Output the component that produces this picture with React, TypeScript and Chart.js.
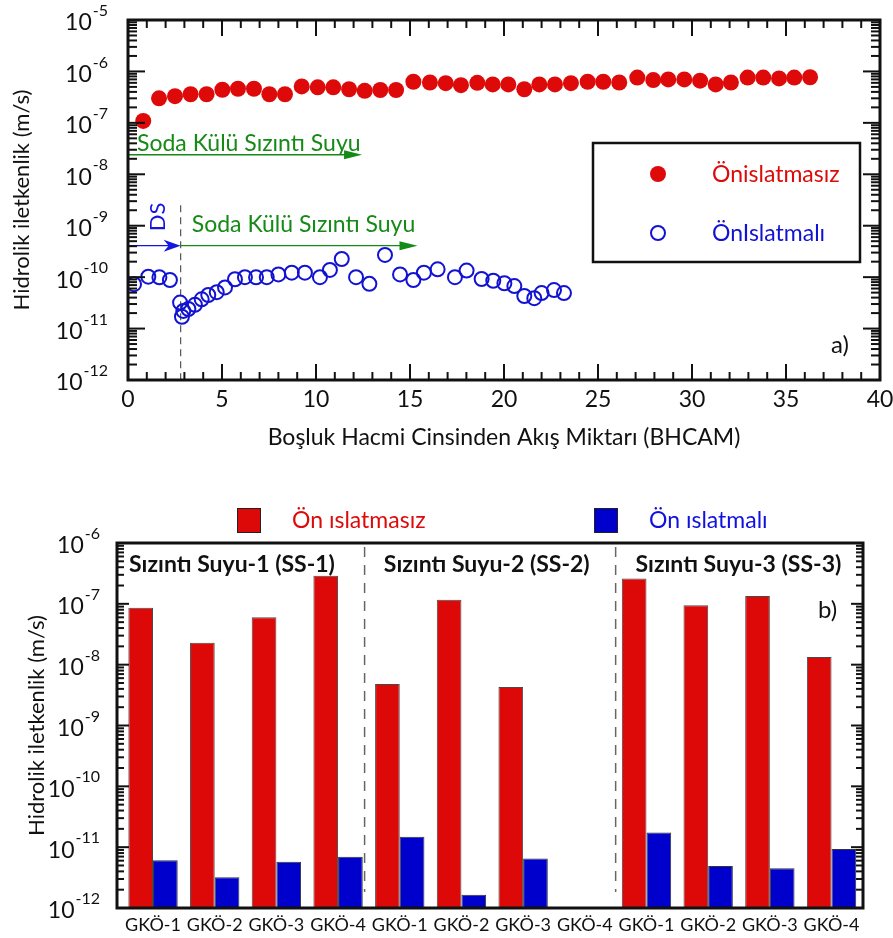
import React, { useEffect, useRef } from 'react';
import { Chart, registerables } from 'chart.js';
Chart.register(...registerables);

const FONT = 'Lato, "Open Sans", "DejaVu Sans", sans-serif';
const RED = '#DE0A0A';
const BLUE_PT = '#1212D2';
const BLUE_BAR = '#0000CC';
const GREEN = '#168A16';
const INK = '#111111';

// ---------- Panel a) data ----------
const dryBhcam = [0.81, 1.65, 2.5, 3.33, 4.18, 5.02, 5.85, 6.7, 7.52, 8.35, 9.24, 10.09, 10.92, 11.76, 12.59, 13.42, 14.26, 15.18, 16.06, 16.9, 17.71, 18.58, 19.4, 20.23, 21.08, 21.88, 22.71, 23.56, 24.45, 25.28, 26.13, 27.09, 27.94, 28.74, 29.59, 30.43, 31.26, 32.07, 32.96, 33.79, 34.63, 35.44, 36.28];
const dryK = [1.09e-7, 3.0e-7, 3.3e-7, 3.6e-7, 3.6e-7, 4.4e-7, 4.6e-7, 4.6e-7, 3.6e-7, 3.6e-7, 5.1e-7, 4.9e-7, 4.9e-7, 4.5e-7, 4.2e-7, 4.35e-7, 4.35e-7, 6.3e-7, 6.1e-7, 5.9e-7, 5.4e-7, 6.0e-7, 5.6e-7, 5.6e-7, 4.5e-7, 5.6e-7, 5.6e-7, 5.9e-7, 6.3e-7, 6.3e-7, 6.1e-7, 7.6e-7, 6.8e-7, 7.0e-7, 7.0e-7, 6.6e-7, 5.6e-7, 6.1e-7, 7.6e-7, 7.6e-7, 7.3e-7, 7.6e-7, 7.7e-7];
const wetBhcam = [0.32, 1.08, 1.67, 2.23, 2.77, 2.87, 2.94, 3.21, 3.56, 3.92, 4.27, 4.72, 5.16, 5.69, 6.22, 6.81, 7.38, 8.0, 8.71, 9.41, 10.21, 10.74, 11.37, 12.13, 12.84, 13.67, 14.47, 15.18, 15.74, 16.47, 17.39, 18.01, 18.81, 19.43, 20.02, 20.55, 21.08, 21.61, 22.0, 22.66, 23.19];
const wetK = [7.3e-11, 1.02e-10, 9.9e-11, 8.8e-11, 3.2e-11, 1.7e-11, 2.2e-11, 2.4e-11, 2.9e-11, 3.7e-11, 4.5e-11, 5.1e-11, 6.3e-11, 9.1e-11, 1.0e-10, 9.9e-11, 1.0e-10, 1.13e-10, 1.22e-10, 1.22e-10, 1.0e-10, 1.38e-10, 2.25e-10, 1.0e-10, 7.4e-11, 2.7e-10, 1.13e-10, 8.8e-11, 1.22e-10, 1.42e-10, 1.0e-10, 1.34e-10, 9.2e-11, 8.5e-11, 7.6e-11, 6.7e-11, 4.3e-11, 3.9e-11, 4.9e-11, 5.6e-11, 4.9e-11];
const topXTicks = [0, 5, 10, 15, 20, 25, 30, 35, 40];
const topExps = [-5, -6, -7, -8, -9, -10, -11, -12];
const topLegend = ['Önislatmasız', 'ÖnIslatmalı'];
const topXTitle = 'Boşluk Hacmi Cinsinden Akış Miktarı (BHCAM)';
const yTitle = 'Hidrolik iletkenlik (m/s)';
const leachateLabel = 'Soda Külü Sızıntı Suyu';
const dsLabel = 'DS';

// ---------- Panel b) data ----------
const samples = ['GKÖ-1', 'GKÖ-2', 'GKÖ-3', 'GKÖ-4', 'GKÖ-1', 'GKÖ-2', 'GKÖ-3', 'GKÖ-4', 'GKÖ-1', 'GKÖ-2', 'GKÖ-3', 'GKÖ-4'];
const groupNames = ['Sızıntı Suyu-1 (SS-1)', 'Sızıntı Suyu-2 (SS-2)', 'Sızıntı Suyu-3 (SS-3)'];
const barDry = [8.6e-8, 2.3e-8, 6.0e-8, 2.9e-7, 4.8e-9, 1.17e-7, 4.3e-9, null, 2.6e-7, 9.5e-8, 1.35e-7, 1.34e-8];
const barWet = [6.1e-12, 3.2e-12, 5.75e-12, 6.95e-12, 1.48e-11, 1.65e-12, 6.5e-12, null, 1.75e-11, 4.9e-12, 4.5e-12, 9.3e-12];
const bottomExps = [-6, -7, -8, -9, -10, -11, -12];
const bottomLegend = ['Ön ıslatmasız', 'Ön ıslatmalı'];

// ---------- helpers ----------
function logTicks(ctx: any, y: any, x0: number, dir: number, eMin: number, eMax: number, major: number, minor: number) {
  for (let e = eMin; e <= eMax; e++) {
    for (let k = 1; k <= 9; k++) {
      if (e === eMax && k > 1) break;
      const py = y.getPixelForValue(k * Math.pow(10, e));
      const len = k === 1 ? major : minor;
      ctx.beginPath();
      ctx.moveTo(x0, py);
      ctx.lineTo(x0 + dir * len, py);
      ctx.stroke();
    }
  }
}

function powLabel(ctx: any, xRight: number, py: number, exp: number, base: number, sup: number) {
  const e = String(exp);
  ctx.save();
  ctx.fillStyle = INK;
  ctx.textAlign = 'left';
  ctx.textBaseline = 'middle';
  ctx.font = `${sup}px ${FONT}`;
  const ws = ctx.measureText(e).width;
  ctx.font = `${base}px ${FONT}`;
  const wb = ctx.measureText('10').width;
  const x0 = xRight - ws - wb - 1;
  ctx.fillText('10', x0, py + 3);
  ctx.font = `${sup}px ${FONT}`;
  ctx.fillText(e, x0 + wb + 1, py - 9);
  ctx.restore();
}

function vText(ctx: any, text: string, cx: number, cy: number, font: string, color: string) {
  ctx.save();
  ctx.translate(cx, cy);
  ctx.rotate(-Math.PI / 2);
  ctx.font = font;
  ctx.fillStyle = color;
  ctx.textAlign = 'center';
  ctx.textBaseline = 'middle';
  ctx.fillText(text, 0, 0);
  ctx.restore();
}

function arrow(ctx: any, x1: number, x2: number, y: number, color: string, len: number, half: number, notch: number) {
  ctx.save();
  ctx.strokeStyle = color;
  ctx.fillStyle = color;
  ctx.lineWidth = 1.3;
  ctx.beginPath();
  ctx.moveTo(x1, y);
  ctx.lineTo(x2 - len * 0.6, y);
  ctx.stroke();
  ctx.beginPath();
  ctx.moveTo(x2, y);
  ctx.lineTo(x2 - len, y - half);
  ctx.lineTo(x2 - len + notch, y);
  ctx.lineTo(x2 - len, y + half);
  ctx.closePath();
  ctx.fill();
  ctx.restore();
}

// ---------- plugins ----------
const panelA = {
  id: 'panelA',
  beforeDatasetsDraw(chart: any) {
    const { ctx, scales: { x, y }, chartArea: a } = chart;
    ctx.save();
    const y1 = y.getPixelForValue(2.4e-8);
    arrow(ctx, x.getPixelForValue(0), x.getPixelForValue(12.45), y1, GREEN, 18, 4.5, 0);
    ctx.font = `23px ${FONT}`;
    ctx.fillStyle = GREEN;
    ctx.textAlign = 'left';
    ctx.textBaseline = 'alphabetic';
    ctx.fillText(leachateLabel, x.getPixelForValue(0.48), y1 - 4);
    const xd = x.getPixelForValue(2.8);
    ctx.strokeStyle = '#555';
    ctx.lineWidth = 1.2;
    ctx.setLineDash([7, 5]);
    ctx.beginPath();
    ctx.moveTo(xd, y.getPixelForValue(2.5e-9));
    ctx.lineTo(xd, a.bottom);
    ctx.stroke();
    ctx.setLineDash([]);
    const y2 = y.getPixelForValue(4.1e-10);
    arrow(ctx, x.getPixelForValue(0), xd, y2, '#1515E0', 17, 6, 5);
    arrow(ctx, xd, x.getPixelForValue(15.4), y2, GREEN, 18, 4.5, 0);
    ctx.font = `23px ${FONT}`;
    ctx.fillStyle = GREEN;
    ctx.fillText(leachateLabel, x.getPixelForValue(3.39), y2 - 14);
    vText(ctx, dsLabel, x.getPixelForValue(1.6), y.getPixelForValue(Math.pow(10, -8.83)), `22px ${FONT}`, '#1515E0');
    ctx.restore();
  },
  afterDraw(chart: any) {
    const { ctx, scales: { x, y }, chartArea: a } = chart;
    const ds = chart.data.datasets;
    ctx.save();
    ctx.strokeStyle = INK;
    ctx.lineWidth = 2;
    logTicks(ctx, y, a.left, 1, -12, -5, 17, 9);
    logTicks(ctx, y, a.right, -1, -12, -5, 17, 9);
    for (let v = 0; v <= 40; v++) {
      const px = x.getPixelForValue(v);
      const len = v % 5 === 0 ? 16 : 8;
      ctx.beginPath(); ctx.moveTo(px, a.bottom); ctx.lineTo(px, a.bottom - len); ctx.stroke();
      ctx.beginPath(); ctx.moveTo(px, a.top); ctx.lineTo(px, a.top + len); ctx.stroke();
    }
    ctx.lineWidth = 3;
    ctx.strokeRect(a.left, a.top, a.right - a.left, a.bottom - a.top);
    topExps.forEach((e) => powLabel(ctx, 108, y.getPixelForValue(Math.pow(10, e)), e, 23, 16));
    ctx.fillStyle = INK;
    ctx.font = `23px ${FONT}`;
    ctx.textAlign = 'center';
    ctx.textBaseline = 'middle';
    topXTicks.forEach((v) => ctx.fillText(String(v), x.getPixelForValue(v), 400));
    ctx.fillText(topXTitle, (a.left + a.right) / 2, 438);
    vText(ctx, yTitle, 22, (a.top + a.bottom) / 2, `22px ${FONT}`, INK);
    ctx.textAlign = 'left';
    ctx.font = `24px ${FONT}`;
    ctx.fillText('a)', 831, 345);
    ctx.lineWidth = 2.5;
    ctx.strokeRect(593, 143, 267, 119);
    ctx.beginPath();
    ctx.arc(658, 174, ds[0].pointRadius, 0, Math.PI * 2);
    ctx.fillStyle = ds[0].backgroundColor;
    ctx.fill();
    ctx.beginPath();
    ctx.arc(658, 233, ds[1].pointRadius, 0, Math.PI * 2);
    ctx.strokeStyle = ds[1].borderColor;
    ctx.lineWidth = ds[1].borderWidth;
    ctx.stroke();
    ctx.font = `23px ${FONT}`;
    ctx.textBaseline = 'middle';
    ctx.fillStyle = RED;
    ctx.fillText(topLegend[0], 712, 175);
    ctx.fillStyle = BLUE_PT;
    ctx.fillText(topLegend[1], 712, 234);
    ctx.restore();
  },
};

const panelB = {
  id: 'panelB',
  beforeDatasetsDraw(chart: any) {
    const { ctx, scales: { x } } = chart;
    ctx.save();
    ctx.strokeStyle = '#666';
    ctx.lineWidth = 1.5;
    ctx.setLineDash([10, 8]);
    [3.43, 7.5].forEach((v) => {
      const px = x.getPixelForValue(v);
      ctx.beginPath();
      ctx.moveTo(px, 87);
      ctx.lineTo(px, 432);
      ctx.stroke();
    });
    ctx.restore();
  },
  afterDraw(chart: any) {
    const { ctx, scales: { x, y }, chartArea: a } = chart;
    ctx.save();
    ctx.strokeStyle = INK;
    ctx.lineWidth = 2;
    logTicks(ctx, y, a.left, 1, -12, -6, 12, 7);
    logTicks(ctx, y, a.right, -1, -12, -6, 12, 7);
    ctx.lineWidth = 3;
    ctx.strokeRect(a.left, a.top, a.right - a.left, a.bottom - a.top);
    bottomExps.forEach((e) => powLabel(ctx, 100, y.getPixelForValue(Math.pow(10, e)), e, 23, 16));
    vText(ctx, yTitle, 37, (a.top + a.bottom) / 2, `22px ${FONT}`, INK);
    ctx.fillStyle = INK;
    ctx.font = `18px ${FONT}`;
    ctx.textAlign = 'center';
    ctx.textBaseline = 'middle';
    samples.forEach((s, i) => ctx.fillText(s, x.getPixelForValue(i), 465));
    ctx.font = `bold 23px ${FONT}`;
    [1.28, 5.41, 9.49].forEach((v, i) => ctx.fillText(groupNames[i], x.getPixelForValue(v), 105));
    ctx.font = `24px ${FONT}`;
    ctx.textAlign = 'left';
    ctx.fillText('b)', 818, 150);
    const ds = chart.data.datasets;
    const items = [
      { sq: 237, tx: 292 },
      { sq: 594, tx: 649 },
    ];
    items.forEach((it, i) => {
      ctx.fillStyle = ds[i].backgroundColor;
      ctx.fillRect(it.sq, 48, 23, 24);
      ctx.lineWidth = 1;
      ctx.strokeStyle = '#222';
      ctx.strokeRect(it.sq + 0.5, 48.5, 23, 24);
      ctx.font = `23px ${FONT}`;
      ctx.fillStyle = i === 0 ? RED : '#1010E0';
      ctx.fillText(bottomLegend[i], it.tx, 61);
    });
    ctx.restore();
  },
};

export default function App() {
  const topRef = useRef<HTMLCanvasElement>(null);
  const botRef = useRef<HTMLCanvasElement>(null);

  useEffect(() => {
    const top = new Chart(topRef.current as HTMLCanvasElement, {
      type: 'scatter',
      data: {
        datasets: [
          {
            label: topLegend[0],
            data: dryBhcam.map((v, i) => ({ x: v, y: dryK[i] })),
            pointRadius: 8,
            pointHoverRadius: 8,
            backgroundColor: RED,
            borderColor: RED,
            borderWidth: 0,
          },
          {
            label: topLegend[1],
            data: wetBhcam.map((v, i) => ({ x: v, y: wetK[i] })),
            pointRadius: 7,
            pointHoverRadius: 7,
            backgroundColor: 'rgba(0,0,0,0)',
            borderColor: BLUE_PT,
            borderWidth: 2,
          },
        ] as any,
      },
      options: {
        responsive: false,
        animation: false,
        layout: { padding: { left: 128, top: 20, right: 13, bottom: 80 } },
        plugins: { legend: { display: false }, tooltip: { enabled: false } },
        scales: {
          x: { type: 'linear', min: 0, max: 40, display: false },
          y: { type: 'logarithmic', min: 1e-12, max: 1e-5, display: false },
        },
      } as any,
      plugins: [panelA],
    });

    const bot = new Chart(botRef.current as HTMLCanvasElement, {
      type: 'bar',
      data: {
        datasets: [
          {
            label: bottomLegend[0],
            data: barDry.map((v, i) => ({ x: i, y: v })),
            backgroundColor: '#DD0808',
            borderColor: '#4a4a4a',
            borderWidth: 1,
          },
          {
            label: bottomLegend[1],
            data: barWet.map((v, i) => ({ x: i, y: v })),
            backgroundColor: BLUE_BAR,
            borderColor: '#333',
            borderWidth: 1,
          },
        ] as any,
      },
      options: {
        responsive: false,
        animation: false,
        categoryPercentage: 0.8,
        barPercentage: 1,
        layout: { padding: { left: 117, top: 83, right: 30, bottom: 30 } },
        plugins: { legend: { display: false }, tooltip: { enabled: false } },
        scales: {
          x: { type: 'linear', min: -0.584, max: 11.51, display: false, offset: false },
          y: { type: 'logarithmic', min: 1e-12, max: 1e-6, display: false },
        },
      } as any,
      plugins: [panelB],
    });

    return () => {
      top.destroy();
      bot.destroy();
    };
  }, []);

  return (
    <div style={{ position: 'fixed', left: 0, top: 0, width: 893, height: 938, background: '#fff' }}>
      <canvas ref={topRef} width={893} height={460} style={{ position: 'absolute', left: 0, top: 0 }} />
      <canvas ref={botRef} width={893} height={478} style={{ position: 'absolute', left: 0, top: 460 }} />
    </div>
  );
}
